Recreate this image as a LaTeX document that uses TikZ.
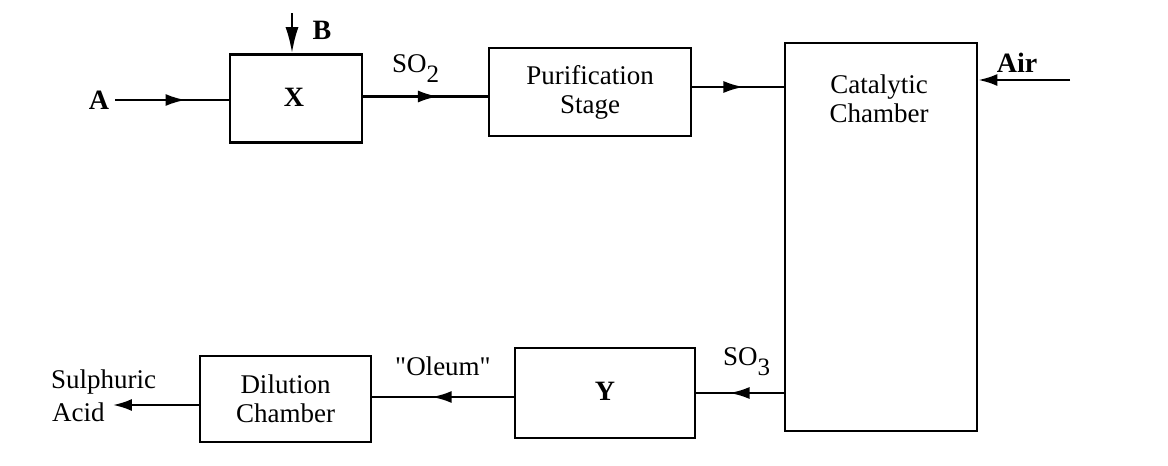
\documentclass[tikz,border=0pt]{standalone}
\usepackage{fontspec}
\setmainfont{Liberation Serif}
\usetikzlibrary{arrows.meta,decorations.markings}
\begin{document}
\begin{tikzpicture}[x=1pt,y=-1pt,
  box/.style={draw, line width=2.6pt, inner sep=0pt, align=center, font=\fontsize{27}{29}\selectfont},
  txt/.style={font=\fontsize{27}{29}\selectfont, inner sep=1pt, align=center},
  bld/.style={font=\fontsize{28}{29}\selectfont\bfseries, inner sep=1pt},
  flow/.style={line width=2.4pt},
  endarrow/.style={flow, -{Latex[length=19pt,width=12pt]}},
  midarrow/.style={flow, postaction={decorate},
    decoration={markings, mark=at position #1 with {\arrow{Latex[length=20pt,width=12pt]}}}}
]
\useasboundingbox (0,0) rectangle (1168,466);
% boxes
\node[box, minimum width=132pt, minimum height=88pt] (X) at (296,98.5) {};
\node[bld] (Xt) at (294,97) {X};
\node[box, minimum width=202pt, minimum height=88pt] (purif) at (590,92) {Purification\\Stage};
\node[box, minimum width=192pt, minimum height=388pt] (cat) at (881,237) {};
\node[txt] (catlabel) at (879,99) {Catalytic\\Chamber};
\node[box, minimum width=180pt, minimum height=90pt] (Y) at (605,393) {};
\node[bld] (Yt) at (605,391) {Y};
\node[box, minimum width=171pt, minimum height=86pt] (dil) at (285.5,399) {Dilution\\Chamber};
% labels
\node[bld] (A) at (99,100) {A};
\node[bld] (B) at (322,30) {B};
\node[txt, anchor=base west, inner sep=0pt] (so2) at (392,72) {SO\raisebox{-10pt}{\fontsize{25}{25}\selectfont 2}};
\node[txt, anchor=base west, inner sep=0pt] (so3) at (723,365) {SO\raisebox{-10pt}{\fontsize{25}{25}\selectfont 3}};
\node[txt] (oleum) at (443,366) {\textquotedbl Oleum\textquotedbl};
\node[bld] (air) at (1017,63) {Air};
\node[txt, anchor=west] (sulph) at (50,382) {Sulphuric};
\node[txt, anchor=west] (acid) at (51,412) {Acid};
% connectors
\coordinate (bstart) at (292,13);
\draw[flow, -{Latex[length=26pt,width=13pt]}] (bstart) -- (bstart |- X.north);
\draw[midarrow=0.62] ([xshift=5pt]A.east) -- (A.east -| X.west);
\draw[midarrow=0.6] ([yshift=2pt]X.east) -- ([yshift=2pt]X.east -| purif.west);
\draw[midarrow=0.56] ([yshift=5pt]purif.east) -- ([yshift=5pt]purif.east -| cat.west);
\coordinate (airstart) at (1070,80);
\draw[endarrow] (airstart) -- (airstart -| cat.east);
\draw[midarrow=0.62] (Y.east -| cat.west) -- (Y.east);
\draw[midarrow=0.58] ([yshift=-4pt]Y.west) -- ([yshift=-4pt]Y.west -| dil.east);
\draw[endarrow] ([yshift=-6pt]dil.west) -- ([xshift=7pt,yshift=-6pt]dil.west -| acid.east);
\end{tikzpicture}
\end{document}
